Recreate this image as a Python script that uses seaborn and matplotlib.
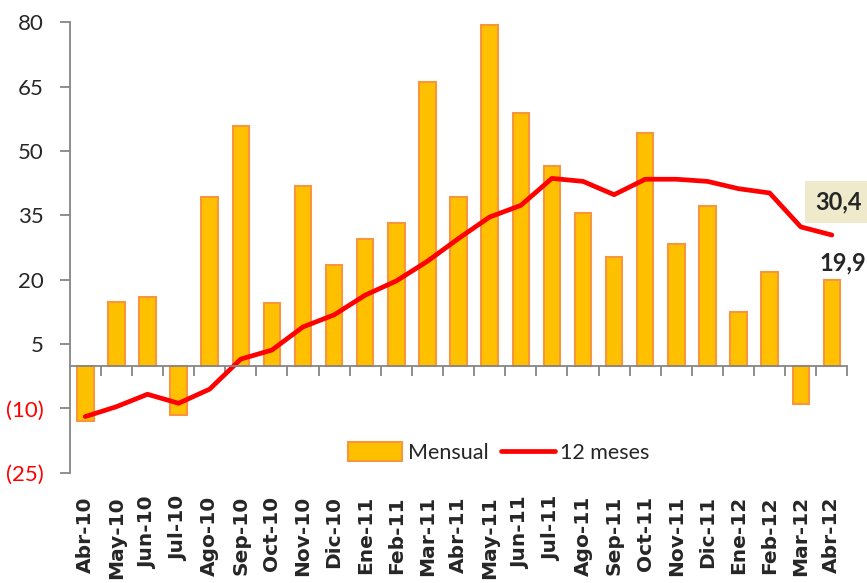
import matplotlib
matplotlib.use("Agg")
import matplotlib.pyplot as plt
import seaborn as sns
import numpy as np
import pandas as pd
from matplotlib.patches import Patch
from matplotlib.lines import Line2D

meses = ["Abr-10", "May-10", "Jun-10", "Jul-10", "Ago-10", "Sep-10", "Oct-10",
         "Nov-10", "Dic-10", "Ene-11", "Feb-11", "Mar-11", "Abr-11", "May-11",
         "Jun-11", "Jul-11", "Ago-11", "Sep-11", "Oct-11", "Nov-11", "Dic-11",
         "Ene-12", "Feb-12", "Mar-12", "Abr-12"]
mensual = [-13.0, 14.9, 16.0, -11.5, 39.3, 55.8, 14.5, 41.9, 23.4, 29.5, 33.1,
           66.0, 39.3, 79.4, 58.8, 46.6, 35.6, 25.3, 54.2, 28.4, 37.2, 12.5,
           21.7, -8.9, 19.9]
doce_meses = [-11.9, -9.6, -6.7, -8.8, -5.5, 1.5, 3.6, 9.0, 11.8, 16.4, 19.7,
              24.3, 29.6, 34.6, 37.3, 43.6, 42.9, 39.8, 43.4, 43.4, 42.9, 41.2,
              40.2, 32.3, 30.4]
y_ticks = [80, 65, 50, 35, 20, 5, -10, -25]

sns.set_style("white")
plt.rcParams["font.family"] = ["Lato", "DejaVu Sans"]

df = pd.DataFrame({"mes": meses, "mensual": mensual, "doce": doce_meses,
                   "pos": np.arange(len(meses))})

fig = plt.figure(figsize=(8.67, 5.83), dpi=100)
ax = fig.add_axes([0.0804, 0.189, 0.897, 0.773])

sns.barplot(data=df, x="mes", y="mensual", color="#FFC000", width=0.53,
            edgecolor="#F7963C", linewidth=1.5, saturation=1, ax=ax)
sns.lineplot(data=df, x="pos", y="doce", color="#FF0000", linewidth=3.4,
             ax=ax)

ax.set_xlim(-0.5, len(meses) - 0.5)
ax.set_ylim(-25, 80)
ax.set_yticks(y_ticks)
ax.set_yticklabels([f"({abs(v)})" if v < 0 else str(v) for v in y_ticks],
                   fontsize=16)
for lab, v in zip(ax.get_yticklabels(), y_ticks):
    if v < 0:
        lab.set_color("#FF0000")
ax.set_xlabel("")
ax.set_ylabel("")

for s in ["top", "right"]:
    ax.spines[s].set_visible(False)
ax.spines["left"].set_color("#868686")
ax.spines["left"].set_linewidth(1.3)
ax.spines["bottom"].set_position(("data", 0))
ax.spines["bottom"].set_color("#868686")
ax.spines["bottom"].set_linewidth(1.3)
ax.tick_params(axis="y", direction="out", length=7, width=1.3,
               color="#868686", pad=12, left=True)

ax.set_xticks(np.arange(len(meses)))
ax.set_xticklabels(meses, rotation=90, fontsize=14.5, fontweight="bold",
                   family="DejaVu Sans", va="top")
ax.tick_params(axis="x", which="major", length=0, pad=94)
ax.set_xticks(np.arange(len(meses)) + 0.5, minor=True)
ax.tick_params(axis="x", which="minor", direction="out", length=7, width=1.3,
               color="#868686", bottom=True)

handles = [Patch(facecolor="#FFC000", edgecolor="#F7963C", linewidth=1.5,
                 label="Mensual"),
           Line2D([0], [0], color="#FF0000", linewidth=3.4, label="12 meses")]
ax.legend(handles=handles, loc="center", bbox_to_anchor=(0.552, 0.045),
          ncol=2, frameon=False, fontsize=15.5, handlelength=2.5,
          handleheight=1.0, handletextpad=0.25, columnspacing=0.6)

ax.text(24.2, 38.0, "30,4", fontsize=17, fontweight="bold",
        ha="center", va="center",
        bbox=dict(boxstyle="square,pad=0.4", facecolor="#EEEACB",
                  edgecolor="none"))
ax.text(24.35, 23.9, "19,9", fontsize=17, fontweight="bold",
        ha="center", va="center")

fig.savefig("out.png", dpi=100)
